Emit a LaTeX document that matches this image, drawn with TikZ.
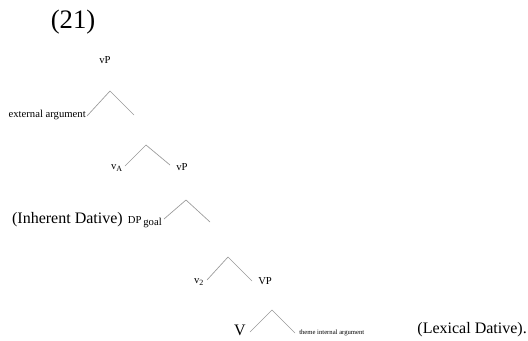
\documentclass[tikz,border=0pt]{standalone}
\usepackage{fontspec}
\setmainfont{Liberation Serif}
\usetikzlibrary{positioning}
\tikzset{
  branch/.style={draw=black!40, line width=0.5pt},
  cat/.style={inner sep=0pt, font=\fontsize{8}{9}\selectfont},
  tiny/.style={inner sep=0pt, font=\fontsize{5}{6}\selectfont},
  gloss/.style={inner sep=0pt, font=\fontsize{12}{14}\selectfont},
}

\begin{document}
\begin{tikzpicture}[x=0.75pt, y=-0.75pt]
\useasboundingbox (0,0) rectangle (528,340);
\node[inner sep=0pt, font=\fontsize{20}{23}\selectfont] (num) at (73,22) {(21)};

% top vP
\node[cat] (vp1) at (105,60) {vP};
\coordinate (top1) at (110,91);
\coordinate (l1) at (87,116);
\coordinate (r1) at (134,115);
\node[cat, anchor=east] (ext) at (86,115) {external argument};
\draw[branch] (l1) -- (top1) -- (r1);

% v_A and vP
\coordinate (top2) at (146,145);
\coordinate (l2) at (125,166);
\coordinate (r2) at (170,165);
\node[cat] (va) at (117,168) {v$_{\mathrm{A}}$};
\node[cat, anchor=west] (vp2) at (176,167) {vP};
\draw[branch] (l2) -- (top2) -- (r2);

% DP goal
\coordinate (top3) at (186,200);
\coordinate (l3) at (164,219);
\coordinate (r3) at (210,222);
\node[cat, anchor=east] (dp) at (162,222) {DP\,\raisebox{-1.5pt}{goal}};
\node[gloss, anchor=east] (inh) at (123,220) {(Inherent Dative)};
\draw[branch] (l3) -- (top3) -- (r3);

% v_2 and VP
\coordinate (top4) at (228,257);
\coordinate (l4) at (207,280);
\coordinate (r4) at (252,281);
\node[cat] (v2) at (199,282) {v$_{\mathrm{2}}$};
\node[cat, anchor=west] (VP) at (258,281) {VP};
\draw[branch] (l4) -- (top4) -- (r4);

% V and theme
\coordinate (top5) at (272,310);
\coordinate (l5) at (250,332);
\coordinate (r5) at (295,333);
\node[gloss] (V) at (240,330) {V};
\node[tiny, anchor=west] (theme) at (299,333) {theme internal argument};
\node[gloss, anchor=east] (lex) at (527,330) {(Lexical Dative).};
\draw[branch] (l5) -- (top5) -- (r5);
\end{tikzpicture}
\end{document}
